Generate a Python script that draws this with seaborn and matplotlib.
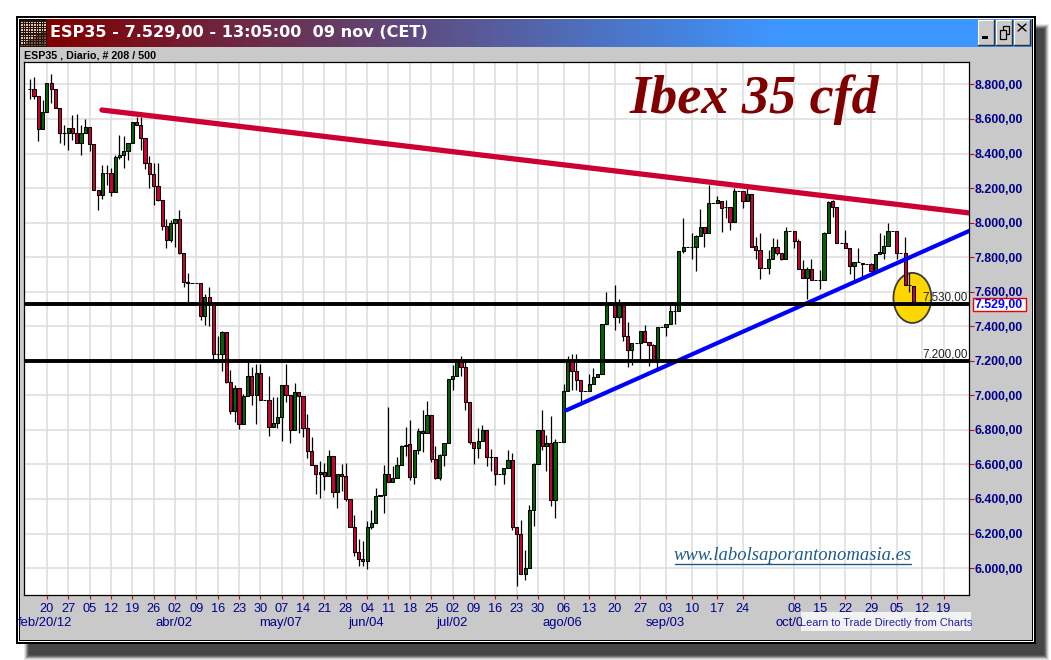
import numpy as np
import pandas as pd
import matplotlib
matplotlib.use("Agg")
import matplotlib.pyplot as plt
from matplotlib.colors import LinearSegmentedColormap
from matplotlib.patches import Ellipse, Rectangle
import seaborn as sns

opens = [8775, 8771, 8735, 8540, 8642, 8811, 8771, 8662, 8521, 8517,
         8546, 8521, 8463, 8521, 8556, 8454, 8187, 8158, 8290, 8287,
         8175, 8379, 8390, 8417, 8463, 8581, 8563, 8492, 8348, 8281,
         8210, 8133, 7979, 7902, 8000, 8023, 7827, 7654, 7650, 7648,
         7648, 7459, 7571, 7532, 7238, 7242, 7364, 7078, 6911, 7045,
         6836, 6998, 7114, 7004, 7132, 6975, 6975, 6816, 6840, 6876,
         7062, 7000, 6801, 7020, 6998, 6811, 6679, 6598, 6546, 6557,
         6534, 6650, 6440, 6546, 6534, 6400, 6238, 6094, 6055, 6043,
         6238, 6263, 6417, 6423, 6546, 6500, 6523, 6598, 6704, 6718,
         6527, 6682, 6793, 6782, 6886, 6631, 6521, 6655, 6724, 7095,
         7110, 7203, 7164, 6961, 6730, 6695, 6736, 6799, 6643, 6643,
         6545, 6545, 6579, 6626, 6237, 6197, 5966, 6000, 6336, 6602,
         6799, 6709, 6724, 6392, 6730, 6730, 7025, 7197, 7139, 7087,
         7023, 7023, 7066, 7106, 7124, 7414, 7523, 7523, 7455, 7523,
         7341, 7263, 7304, 7304, 7374, 7306, 7290, 7201, 7397, 7397,
         7414, 7488, 7486, 7833, 7857, 7857, 7857, 7921, 7973, 7938,
         8113, 8113, 8128, 8093, 8093, 8002, 8186, 8186, 8128, 8167,
         7862, 7839, 7740, 7740, 7787, 7857, 7822, 7787, 7950, 7950,
         7893, 7734, 7682, 7729, 7670, 7670, 7670, 7938, 8126, 8093,
         7884, 7884, 7855, 7750, 7773, 7767, 7758, 7758, 7721, 7816,
         7827, 7862, 7950, 7950, 7826, 7826, 7641, 7635]
closes = [8775, 8735, 8540, 8642, 8811, 8771, 8662, 8521, 8521, 8546,
          8521, 8463, 8521, 8556, 8454, 8187, 8158, 8290, 8290, 8175,
          8379, 8390, 8417, 8463, 8581, 8563, 8492, 8348, 8281, 8210,
          8133, 7979, 7902, 8000, 8023, 7827, 7654, 7650, 7650, 7648,
          7459, 7571, 7532, 7238, 7238, 7364, 7078, 6911, 7045, 6836,
          6998, 7114, 7004, 7132, 6975, 6975, 6816, 6841, 6876, 7062,
          7000, 6801, 7020, 6998, 6811, 6679, 6598, 6546, 6557, 6534,
          6650, 6440, 6546, 6534, 6400, 6238, 6094, 6055, 6043, 6238,
          6263, 6417, 6423, 6546, 6500, 6523, 6598, 6704, 6715, 6527,
          6685, 6793, 6782, 6886, 6631, 6521, 6655, 6724, 7095, 7110,
          7203, 7164, 6961, 6730, 6695, 6736, 6799, 6643, 6643, 6545,
          6545, 6579, 6626, 6236, 6197, 5966, 6000, 6336, 6602, 6799,
          6709, 6724, 6392, 6730, 6730, 7025, 7197, 7139, 7087, 7023,
          7023, 7066, 7106, 7124, 7414, 7523, 7523, 7455, 7523, 7341,
          7263, 7304, 7304, 7374, 7306, 7290, 7207, 7397, 7397, 7414,
          7490, 7488, 7833, 7857, 7857, 7857, 7921, 7973, 7938, 8113,
          8113, 8130, 8084, 8093, 8002, 8186, 8186, 8128, 8167, 7860,
          7839, 7740, 7740, 7787, 7857, 7822, 7787, 7950, 7950, 7893,
          7734, 7682, 7729, 7670, 7670, 7670, 7938, 8122, 8093, 7884,
          7884, 7855, 7750, 7773, 7773, 7758, 7758, 7721, 7816, 7829,
          7862, 7950, 7950, 7822, 7826, 7641, 7641, 7531]
highs = [8829, 8844, 8735, 8710, 8811, 8863, 8771, 8662, 8565, 8546,
         8623, 8627, 8565, 8598, 8556, 8454, 8187, 8335, 8335, 8315,
         8392, 8508, 8500, 8463, 8585, 8610, 8610, 8492, 8387, 8344,
         8344, 8133, 8019, 8017, 8023, 8071, 7827, 7706, 7650, 7648,
         7648, 7586, 7625, 7532, 7342, 7372, 7364, 7149, 7058, 7045,
         7006, 7194, 7165, 7184, 7184, 6975, 7110, 6990, 6990, 7062,
         7180, 7000, 7074, 7020, 6998, 6890, 6758, 6598, 6619, 6609,
         6681, 6650, 6546, 6604, 6609, 6400, 6305, 6170, 6155, 6272,
         6338, 6465, 6423, 6594, 6931, 6588, 6642, 6715, 6817, 6859,
         6685, 6811, 6917, 6969, 6886, 6709, 6660, 6724, 7095, 7178,
         7203, 7225, 7191, 6961, 6730, 6811, 6830, 6799, 6689, 6643,
         6545, 6579, 6685, 6666, 6237, 6280, 6103, 6367, 6608, 6799,
         6917, 6770, 6882, 6745, 6730, 7068, 7230, 7239, 7241, 7087,
         7023, 7125, 7158, 7124, 7414, 7597, 7523, 7637, 7560, 7523,
         7422, 7304, 7304, 7374, 7405, 7306, 7300, 7397, 7397, 7414,
         7521, 7540, 7833, 8025, 7857, 7940, 7930, 8078, 7973, 8219,
         8113, 8155, 8128, 8130, 8093, 8200, 8186, 8186, 8200, 8167,
         7919, 7938, 7740, 7841, 7913, 7903, 7822, 7977, 7950, 7950,
         7903, 7783, 7745, 7787, 7670, 7725, 7948, 8126, 8132, 8093,
         7884, 7957, 7855, 7773, 7855, 7767, 7758, 7764, 7816, 7938,
         7928, 7996, 7950, 7950, 7826, 7915, 7709, 7635]
lows = [8713, 8713, 8475, 8540, 8642, 8694, 8662, 8460, 8450, 8421,
        8479, 8463, 8392, 8517, 8412, 8187, 8075, 8138, 8219, 8152,
        8175, 8367, 8319, 8363, 8463, 8563, 8421, 8310, 8200, 8100,
        8125, 7956, 7854, 7888, 7860, 7821, 7629, 7542, 7650, 7648,
        7436, 7406, 7401, 7200, 7203, 7140, 7072, 6894, 6845, 6805,
        6836, 6998, 6942, 6832, 6975, 6975, 6764, 6816, 6809, 6735,
        6961, 6724, 6801, 6781, 6758, 6636, 6598, 6430, 6405, 6450,
        6534, 6411, 6348, 6446, 6390, 6238, 6070, 6013, 6013, 5992,
        6228, 6263, 6417, 6319, 6500, 6500, 6523, 6598, 6647, 6508,
        6485, 6662, 6670, 6782, 6612, 6516, 6508, 6589, 6724, 7033,
        7110, 7114, 6913, 6720, 6604, 6635, 6736, 6593, 6560, 6479,
        6545, 6489, 6579, 6222, 5898, 5966, 5933, 6000, 6245, 6602,
        6685, 6560, 6357, 6288, 6730, 6730, 7025, 7033, 7033, 6956,
        7023, 7023, 7066, 7106, 7124, 7414, 7523, 7376, 7418, 7313,
        7162, 7176, 7304, 7197, 7306, 7172, 7200, 7143, 7397, 7343,
        7414, 7414, 7486, 7826, 7857, 7787, 7721, 7921, 7860, 7938,
        8113, 8113, 7948, 8025, 7958, 8002, 8186, 8084, 8128, 7860,
        7787, 7676, 7740, 7705, 7787, 7812, 7783, 7787, 7950, 7855,
        7734, 7682, 7560, 7670, 7670, 7614, 7670, 7938, 8031, 7884,
        7884, 7855, 7705, 7657, 7773, 7686, 7758, 7721, 7721, 7816,
        7787, 7862, 7950, 7787, 7826, 7641, 7599, 7521]

day_pos = [4, 9, 14, 19, 24, 29, 34, 39, 44, 49, 54, 59, 64, 69, 74, 79, 84, 89, 94, 99,
           104, 109, 114, 119, 125, 131, 137, 143, 149, 155, 161, 167, 179, 185, 191,
           197, 203, 209, 214]
day_labels = ["20", "27", "05", "12", "19", "26", "02", "09", "16", "23", "30", "07", "14",
              "21", "28", "04", "11", "18", "25", "02", "09", "16", "23", "30", "06", "13",
              "20", "27", "03", "10", "17", "24", "08", "15", "22", "29", "05", "12", "19"]
month_pos = [3.6, 33.8, 58.8, 78.8, 98.8, 124.8, 148.8, 178.8]
month_labels = ["feb/20/12", "abr/02", "may/07", "jun/04", "jul/02", "ago/06", "sep/03", "oct/01"]
price_ticks = [6000, 6200, 6400, 6600, 6800, 7000, 7200, 7400, 7600, 7800, 8000, 8200, 8400, 8600, 8800]
price_labels = ["6.000,00", "6.200,00", "6.400,00", "6.600,00", "6.800,00", "7.000,00", "7.200,00",
                "7.400,00", "7.600,00", "7.800,00", "8.000,00", "8.200,00", "8.400,00", "8.600,00",
                "8.800,00"]
resist_x = [16.9, 220]
resist_y = [8652, 8056]
support_x = [125.6, 220]
support_y = [6913, 7952]
levels = [7530, 7200]
level_labels = ["7.530,00", "7.200,00"]
last_price = 7529

NAVY = "#00008b"
RED = "#cc0033"
GREEN = "#006400"
PANEL = "#c9c9c9"

df = pd.DataFrame({"bar": np.arange(len(opens)), "open": opens, "close": closes,
                   "high": highs, "low": lows})
df["bottom"] = df[["open", "close"]].min(axis=1)
df["body"] = (df["open"] - df["close"]).abs()
up = df[df["close"] >= df["open"]]
down = df[df["close"] < df["open"]]

sns.set_style("white")
plt.rcParams["font.family"] = ["Liberation Sans", "DejaVu Sans"]

W, H = 1051, 660
fig = plt.figure(figsize=(W / 100, H / 100), dpi=100, facecolor="white")

# window chrome, in pixels
bg = fig.add_axes([0, 0, 1, 1], zorder=0)
bg.set_xlim(0, W)
bg.set_ylim(H, 0)
bg.axis("off")

for k, a in enumerate([0.12, 0.2, 0.3, 0.45, 0.6, 0.7]):
    bg.add_patch(Rectangle((24 + k, 24 + k), 1025 - 2 * k, 636 - 2 * k, fc="#404040", ec="none", alpha=a))

bg.add_patch(Rectangle((15.5, 15.5), 1020.5, 628, fc="black", ec="none"))
bg.add_patch(Rectangle((17.5, 17.5), 1016.5, 624, fc="white", ec="none"))
bg.add_patch(Rectangle((18.5, 18.5), 1014.5, 622, fc="black", ec="none"))
bg.add_patch(Rectangle((19.5, 19.5), 1012.5, 620, fc=PANEL, ec="none"))

grad = LinearSegmentedColormap.from_list("title", [(0, "#800000"), (0.74, "#3d96ff"), (1, "#3d96ff")])
bg.imshow(np.linspace(0, 1, 512).reshape(1, -1), cmap=grad, aspect="auto",
          extent=(46, 1032, 47, 19.5), zorder=1)
bg.add_patch(Rectangle((19.5, 19.5), 27, 27.5, fc="#2a1208", ec="none", zorder=1))
for px in np.arange(21, 46, 2.6):
    for py in np.arange(21.5, 46, 2.6):
        shade = "#d8c8b8" if (px - 21) + 1.6 * (py - 21.5) < 36 else "#6b5a4a"
        bg.add_patch(Rectangle((px, py), 1.5, 1.5, fc=shade, ec="none", zorder=2))
bg.set_xlim(0, W)
bg.set_ylim(H, 0)

for bx in [978, 996, 1014]:
    bg.add_patch(Rectangle((bx, 20), 16, 24.5, fc=PANEL, ec="none", zorder=2))
    bg.plot([bx, bx, bx + 16], [44.5, 20, 20], color="white", lw=0.8, zorder=3)
    bg.plot([bx, bx + 16, bx + 16], [44.5, 44.5, 20], color="#303030", lw=1.0, zorder=3)
bg.add_patch(Rectangle((981.5, 35.5), 6, 3, fc="black", ec="none", zorder=3))
bg.add_patch(Rectangle((1003, 26), 6, 7.5, fc=PANEL, ec="black", lw=0.9, zorder=3))
bg.add_patch(Rectangle((999.5, 30), 6, 9, fc=PANEL, ec="black", lw=0.9, zorder=3))
bg.plot([1018, 1026], [24, 31], color="black", lw=1.0, zorder=3)
bg.plot([1018, 1026], [31, 24], color="black", lw=1.0, zorder=3)

bg.text(50, 32.5, "ESP35 - 7.529,00 - 13:05:00  09 nov (CET)", color="white", fontsize=11.65,
        family="DejaVu Sans", fontweight="bold", va="center", ha="left", zorder=4)
bg.text(24, 55, "ESP35 , Diario, # 208 / 500", color="black", fontsize=7.7,
        fontweight="bold", va="center", ha="left", zorder=4)

# price panel
ax = fig.add_axes([23.5 / W, 1 - 595 / H, (969 - 23.5) / W, (595 - 62) / H], zorder=1)
ax.set_facecolor("white")

ax.vlines(df["bar"], df["low"], df["high"], color="black", lw=0.9, zorder=3)
ax.add_patch(Ellipse((206.7, 7564), 8.9, 290, fc="#ffd700", ec="#3a3a3a", lw=1.3, zorder=2.5))
for part, col in [(up, GREEN), (down, RED)]:
    sns.barplot(data=part, x="bar", y="body", bottom=part["bottom"].values, native_scale=True,
                color=col, saturation=1, width=0.75, edgecolor="black", linewidth=0.75,
                errorbar=None, ax=ax, zorder=4)

sns.lineplot(x=resist_x, y=resist_y, color=RED, lw=3.8, ax=ax, zorder=5)
sns.lineplot(x=support_x, y=support_y, color="#0000ff", lw=3.0, ax=ax, zorder=5)
for lev, lab in zip(levels, level_labels):
    ax.axhline(lev, color="black", lw=2.8, zorder=6)
    ax.text(219.6, lev + 1, lab, color="#222222", fontsize=8.4, ha="right", va="bottom", zorder=6)

ax.set_xlim(-1.475, 219.95)
ax.set_ylim(5844, 8930)
ax.set_xlabel("")
ax.set_ylabel("")
ax.set_xticks(day_pos, day_labels)
ax.set_yticks(price_ticks, price_labels)
ax.yaxis.tick_right()
ax.grid(True, color="#dcdcdc", lw=1.1)
ax.set_axisbelow(True)
ax.tick_params(axis="x", length=3, width=0.8, color="#dd0000", labelcolor=NAVY, labelsize=9.2, pad=3, bottom=True)
ax.tick_params(axis="y", length=3.5, width=0.8, color="#dd0000", labelcolor=NAVY, labelsize=8.9, pad=0.5, right=True)
for lab in ax.get_yticklabels():
    lab.set_fontweight("bold")
for s in ax.spines.values():
    s.set_color("black")
    s.set_linewidth(0.9)

for pos, lab in zip(month_pos, month_labels):
    ax.annotate(lab, xy=(pos, 0), xycoords=("data", "axes fraction"), xytext=(0, -20.5),
                textcoords="offset points", color=NAVY, fontsize=9.4, ha="center", va="center",
                annotation_clip=False)

# overlay text, in pixels
top = fig.add_axes([0, 0, 1, 1], zorder=2)
top.set_xlim(0, W)
top.set_ylim(H, 0)
top.axis("off")
top.patch.set_alpha(0)
top.text(754, 100, "Ibex 35 cfd", color="#800000", fontsize=39, family="Liberation Serif",
         style="italic", fontweight="bold", ha="center", va="center")
top.text(793, 556, "www.labolsaporantonomasia.es", color="#1f5a8c", fontsize=13.4,
         family="Liberation Serif", style="italic", ha="center", va="center")
top.plot([675, 911], [564, 564], color="#1f5a8c", lw=1.0)
top.add_patch(Rectangle((801, 612), 170, 19, fc="#f2f2f2", ec="none"))
top.text(886, 623, "Learn to Trade Directly from Charts", color="#2020a8", fontsize=7.9,
         ha="center", va="center")
top.add_patch(Rectangle((972.5, 298), 53, 13, fc="white", ec="#ee0000", lw=1.0))
top.text(999, 304.8, f"{last_price:,}".replace(",", ".") + ",00", color="#0000ff", fontsize=8.9,
         fontweight="bold", ha="center", va="center")

fig.savefig("out.png", dpi=100, facecolor="white")
